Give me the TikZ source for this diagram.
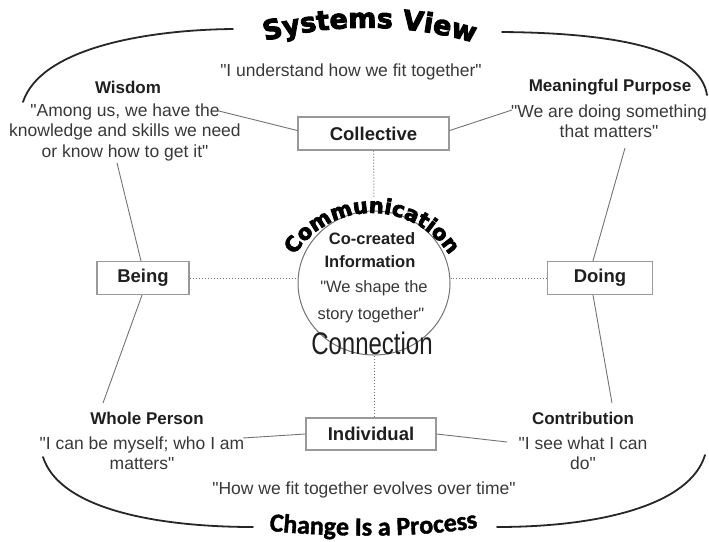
\documentclass[tikz,border=0pt]{standalone}
\usepackage{fontspec}
\setmainfont{Liberation Sans}[Ligatures=TeXOff]
\newfontfamily\titlefont{DejaVu Sans}[BoldFeatures={FakeBold=3.5}]
\newfontfamily\procfont{Carlito}[BoldFeatures={FakeBold=1.5}]
\usetikzlibrary{decorations.text,shapes.geometric}
\definecolor{linegray}{gray}{0.45}
\definecolor{boxgray}{gray}{0.6}
\definecolor{txtdark}{gray}{0.12}
\definecolor{quotegray}{gray}{0.22}
\begin{document}
\begin{tikzpicture}[x=1pt,y=1pt,
  box/.style={draw=boxgray, line width=1.3pt, fill=white, inner sep=0pt, font=\bfseries\fontsize{18.5}{18.5}\selectfont, text=txtdark},
  link/.style={draw=linegray, line width=0.9pt},
  dots/.style={draw=linegray, dotted, line width=1pt},
  arcline/.style={draw=black!85, line width=1.8pt, line cap=round},
  lbl/.style={font=\bfseries\fontsize{17}{17}\selectfont, text=txtdark, inner sep=0pt},
  quote/.style={font=\fontsize{17.5}{20.5}\selectfont, text=quotegray, align=center, inner sep=0pt},
  inner/.style={font=\fontsize{16.5}{16.5}\selectfont, text=quotegray, inner sep=0pt},
  innerb/.style={font=\bfseries\fontsize{16.5}{16.5}\selectfont, text=txtdark, inner sep=0pt},
]
\useasboundingbox (0,0) rectangle (709,-541);

% outer arcs
\draw[arcline] (23,-102) .. controls (40,-50) and (140,-30) .. (233,-29);
\draw[arcline] (502,-32) .. controls (620,-33) and (700,-50) .. (707,-95);
\draw[arcline] (43,-457) .. controls (60,-510) and (160,-527) .. (253,-527);
\draw[arcline] (497,-527) .. controls (600,-527) and (690,-505) .. (705,-455);

% arched titles
\path[decorate, decoration={text along path, text align=center,
  text={|\titlefont\bfseries\fontsize{27}{27}\selectfont|Systems View}}]
  (254,-44) .. controls (330,-22) and (410,-22) .. (485,-46);
\path[decorate, decoration={text along path, text align=center,
  text={|\procfont\bfseries\fontsize{26}{26}\selectfont|Change Is a Process}}]
  (262,-530) .. controls (330,-538) and (430,-538) .. (485,-526);

% boxes
\node[box, minimum width=151pt, minimum height=33pt] (coll) at (373.5,-133.5) {Collective};
\node[box, minimum width=92pt, minimum height=33pt] (being) at (143,-278) {Being};
\node[box, minimum width=105pt, minimum height=33pt] (doing) at (600,-278) {Doing};
\node[box, minimum width=130pt, minimum height=32pt] (indiv) at (371,-434) {Individual};
\node[ellipse, draw=linegray, line width=1pt, minimum width=152pt, minimum height=144pt, inner sep=0pt] (circ) at (374,-283) {};

% circle texts
\path[decorate, decoration={text along path, text align=center,
  text={|\titlefont\bfseries\fontsize{21}{21}\selectfont|Communication}}]
  ([shift={(152:92)}]372,-305) arc[start angle=152, end angle=28, radius=92];
\node[innerb] (cocr) at (372,-239) {Co-created};
\node[innerb] (info) at (370,-262) {Information};
\node[inner] (shape) at (374,-288) {"We shape the};
\node[inner] (story) at (371,-315) {story together"};
\node[font=\fontsize{24}{24}\selectfont, text=txtdark, inner sep=0pt] (conn) at (372,-343) {\scalebox{1}[1.3]{Connection}};

% labels and quotes
\node[quote] (topq) at (351,-72) {"I understand how we fit together"};
\node[lbl] (wis) at (128,-87) {Wisdom};
\node[quote] (wisq) at (125,-132) {"Among us, we have the\\knowledge and skills we need\\or know how to get it"};
\node[lbl] (mp) at (610,-87) {Meaningful Purpose};
\node[quote] (mpq) at (609,-121) {"We are doing something\\that matters"};
\node[lbl] (wp) at (147,-418) {Whole Person};
\node[quote] (wpq) at (142,-453) {"I can be myself; who I am\\matters"};
\node[lbl] (con) at (583,-418) {Contribution};
\node[quote] (conq) at (583,-453) {"I see what I can\\do"};
\node[quote] (botq) at (364,-490) {"How we fit together evolves over time"};

% connector end points
\coordinate (wisA) at (219,-111);
\coordinate (wisB) at (117,-163);
\coordinate (purA) at (512,-110);
\coordinate (purB) at (625,-148);
\coordinate (wpA) at (103,-403);
\coordinate (wpB) at (243,-438);
\coordinate (conA) at (612,-403);
\coordinate (conB) at (507,-442);
\coordinate (commTop) at (374,-197);

\draw[link] (wisA) -- ([yshift=3pt]coll.west);
\draw[link] ([yshift=3pt]coll.east) -- (purA);
\draw[link] (wisB) -- ([xshift=-2pt]being.north);
\draw[link] ([xshift=-1pt]being.south) -- (wpA);
\draw[link] ([xshift=-7pt]doing.north) -- (purB);
\draw[link] ([xshift=-7pt]doing.south) -- (conA);
\draw[link] (indiv.west) -- (wpB);
\draw[link] (indiv.east) -- (conB);

\draw[dots] (coll.south) -- (commTop);
\draw[dots] (being.east) -- (being.east -| circ.west);
\draw[dots] (doing.west) -- (doing.west -| circ.east);
\draw[dots] (circ.south) -- (circ.south |- indiv.north);
\end{tikzpicture}
\end{document}
